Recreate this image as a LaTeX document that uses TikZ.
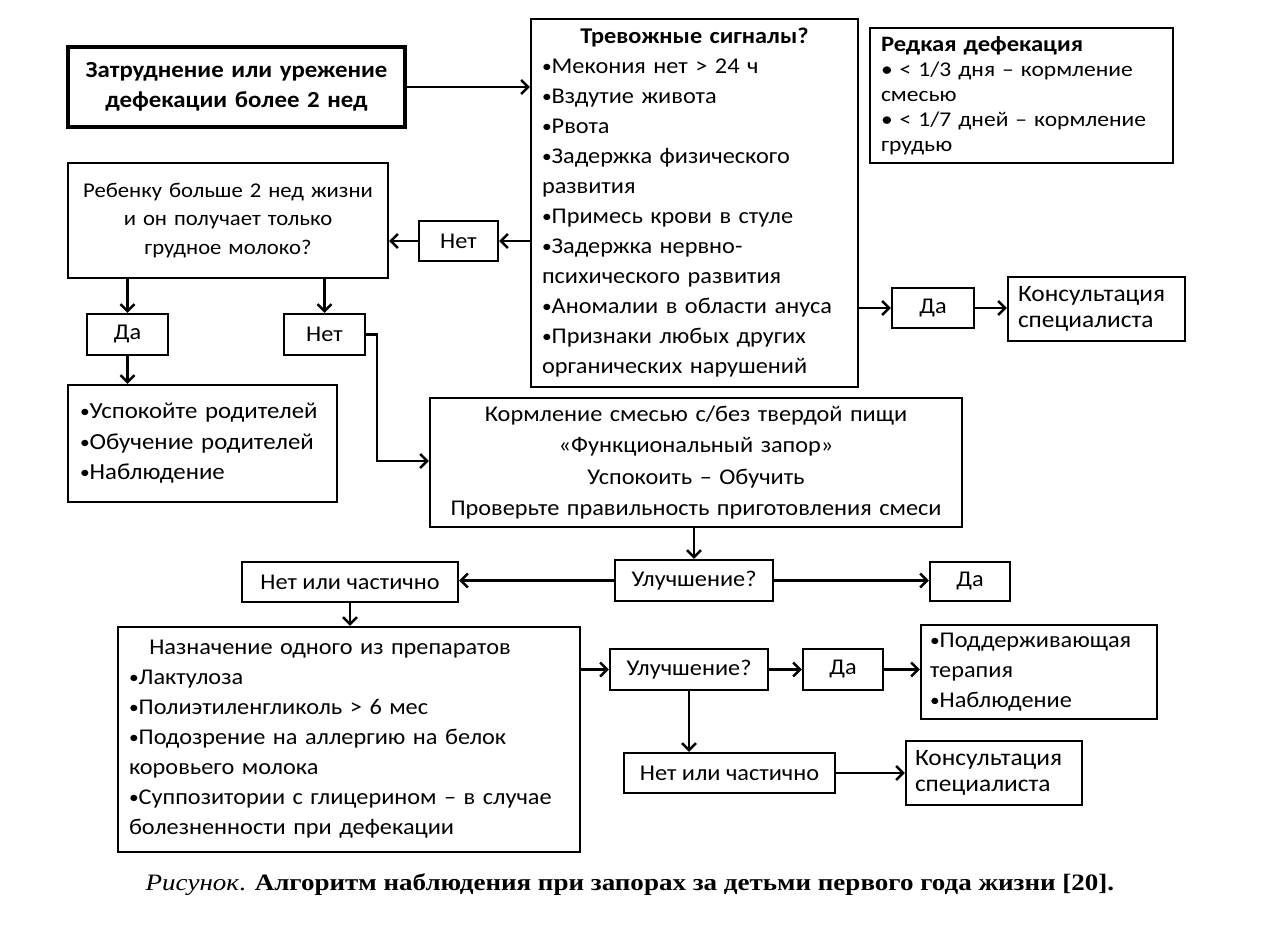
\documentclass[tikz,border=0pt]{standalone}
\usepackage{fontspec}
\setmainfont{Carlito}[FakeStretch=1.08]
\newfontfamily\rarefont{Carlito}[FakeStretch=1.12]
\newfontfamily\capfont{Liberation Serif}[FakeStretch=1.15]
\usetikzlibrary{arrows.meta}
\newcommand\mybul{{\fontsize{18}{18}\selectfont\raisebox{1pt}{•}}}
\tikzset{
  bx/.style={draw, line width=2.4pt, inner sep=0pt, font=\fontsize{22.5}{30}\selectfont},
  arr/.style={line width=2.4pt, -{Straight Barb[length=7pt,width=14pt]}},
}
\begin{document}
\begin{tikzpicture}[x=1pt,y=-1pt]
\useasboundingbox[fill=white] (0,0) rectangle (1280,937);
% top row
\node[bx, line width=3.4pt, minimum width=337pt, minimum height=80pt, text width=330pt, align=center, font=\fontsize{23}{30}\selectfont\bfseries] (start) at (236.5,87) {Затруднение или урежение\\дефекации более 2 нед};
\node[bx, minimum width=327pt, minimum height=368pt, text width=305pt, align=left] (alarm) at (694.5,203) {\makebox[305pt][c]{\bfseries Тревожные сигналы?}\\
\mybul Мекония нет > 24 ч\\
\mybul Вздутие живота\\
\mybul Рвота\\
\mybul Задержка физического\\
развития\\
\mybul Примесь крови в стуле\\
\mybul Задержка нервно-\\
психического развития\\
\mybul Аномалии в области ануса\\
\mybul Признаки любых других\\
органических нарушений};
\node[bx, minimum width=303pt, minimum height=135pt, text width=281pt, align=left, font=\rarefont\fontsize{21}{25}\selectfont] (rare) at (1021.5,95.5) {{\fontsize{22}{25}\selectfont\bfseries Редкая дефекация}\\
• < 1/3 дня – кормление\\
смесью\\
• < 1/7 дней – кормление\\
грудью};
\node[bx, minimum width=320pt, minimum height=115pt, text width=316pt, align=center, font=\fontsize{21}{28.5}\selectfont] (q) at (228,220.5) {Ребенку больше 2 нед жизни\\и он получает только\\грудное молоко?};
\node[bx, minimum width=79pt, minimum height=40pt] (net1) at (458.5,241) {Нет};
\node[bx, minimum width=81pt, minimum height=41pt] (da1) at (127.5,334.5) {Да};
\node[bx, minimum width=81pt, minimum height=41pt] (net2) at (324.5,334.5) {Нет};
\node[bx, minimum width=82pt, minimum height=40pt] (da2) at (933,308) {Да};
\node[bx, minimum width=177pt, minimum height=64pt, text width=157pt, align=left, font=\fontsize{23.5}{26}\selectfont] (cons1) at (1096.5,309) {Консультация\\специалиста};
\node[bx, minimum width=269pt, minimum height=117pt, text width=245pt, align=left, font=\fontsize{23}{30.5}\selectfont] (res1) at (202.5,443.5) {\mybul Успокойте родителей\\\mybul Обучение родителей\\\mybul Наблюдение};
\node[bx, minimum width=532pt, minimum height=129pt, text width=528pt, align=center, font=\fontsize{22.5}{31.5}\selectfont] (feed) at (696,462.5) {Кормление смесью с/без твердой пищи\\«Функциональный запор»\\Успокоить – Обучить\\Проверьте правильность приготовления смеси};
% middle row
\node[bx, minimum width=158pt, minimum height=41pt] (imp1) at (694,580.5) {Улучшение?};
\node[bx, minimum width=216pt, minimum height=40pt] (nop1) at (350,582) {Нет или частично};
\node[bx, minimum width=80pt, minimum height=39pt] (da3) at (970,581.5) {Да};
% bottom
\node[bx, minimum width=462pt, minimum height=225pt, text width=440pt, align=left] (presc) at (349,739.5) {\hspace{0.9em}Назначение одного из препаратов\\
\mybul Лактулоза\\
\mybul Полиэтиленгликоль > 6 мес\\
\mybul Подозрение на аллергию на белок\\
коровьего молока\\
\mybul Суппозитории с глицерином – в случае\\
болезненности при дефекации};
\node[bx, minimum width=158pt, minimum height=41pt] (imp2) at (689,669.5) {Улучшение?};
\node[bx, minimum width=80pt, minimum height=41pt] (da4) at (843,669.5) {Да};
\node[bx, minimum width=236pt, minimum height=94pt, text width=218pt, align=left] (supp) at (1039,672) {\mybul Поддерживающая\\терапия\\\mybul Наблюдение};
\node[bx, minimum width=211pt, minimum height=40pt] (nop2) at (729.5,773) {Нет или частично};
\node[bx, minimum width=176pt, minimum height=64pt, text width=158pt, align=left, font=\fontsize{23.5}{26}\selectfont] (cons2) at (994,773) {Консультация\\специалиста};
% caption
\node[inner sep=0pt, font=\capfont\fontsize{23.5}{26}\selectfont] (cap) at (630,885) {\textit{Рисунок}. \textbf{Алгоритм наблюдения при запорах за детьми первого года жизни [20].}};
% connectors
\draw[arr] (start.east) -- (start.east -| alarm.west);
\draw[arr] (alarm.west |- net1.east) -- (net1.east);
\draw[arr] (net1.west) -- (net1.west -| q.east);
\draw[arr] (q.south -| da1.north) -- (da1.north);
\draw[arr] (q.south -| net2.north) -- (net2.north);
\draw[arr] (da1.south) -- (da1.south |- res1.north);
\coordinate (k1) at (377,334.5);
\coordinate (k2) at (377,461);
\draw[arr] (net2.east) -- (k1) -- (k2) -- (k2 -| feed.west);
\draw[arr] (alarm.east |- da2.west) -- (da2.west);
\draw[arr] (da2.east) -- (da2.east -| cons1.west);
\draw[arr] (feed.south -| imp1.north) -- (imp1.north);
\draw[arr] (imp1.west) -- (imp1.west -| nop1.east);
\draw[arr] (imp1.east) -- (imp1.east -| da3.west);
\draw[arr] (nop1.south) -- (nop1.south |- presc.north);
\draw[arr] (presc.east |- imp2.west) -- (imp2.west);
\draw[arr] (imp2.east) -- (da4.west);
\draw[arr] (da4.east) -- (da4.east -| supp.west);
\draw[arr] (imp2.south) -- (imp2.south |- nop2.north);
\draw[arr] (nop2.east) -- (nop2.east -| cons2.west);
\end{tikzpicture}
\end{document}
